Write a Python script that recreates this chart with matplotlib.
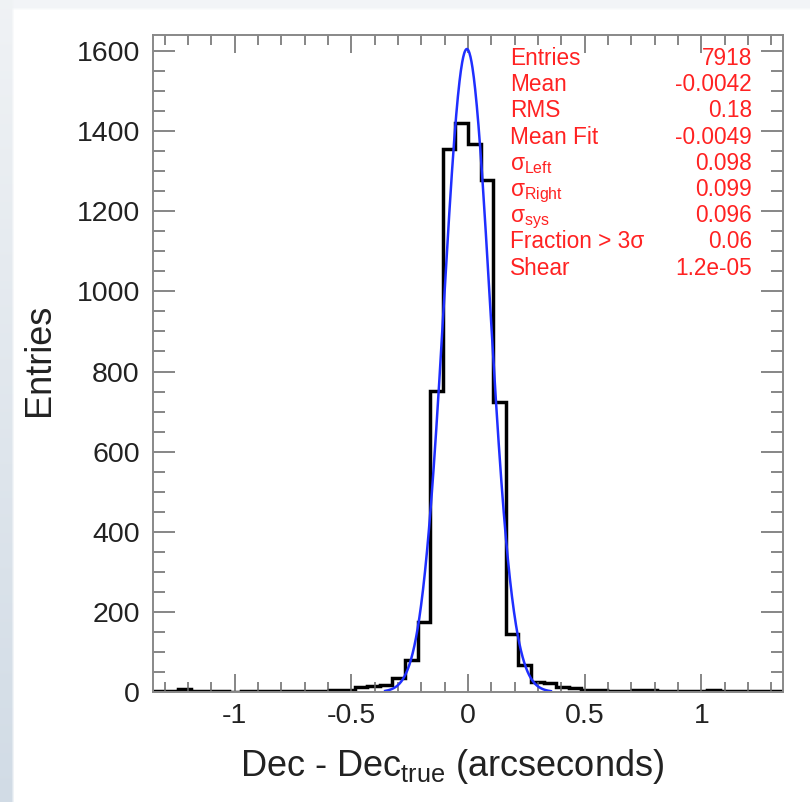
import numpy as np
import matplotlib
matplotlib.use("Agg")
import matplotlib.pyplot as plt
from matplotlib import font_manager
from matplotlib.ticker import MultipleLocator

# histogram: 50 bins over [-1.35, 1.35]
bin_lo, bin_hi, n_bins = -1.35, 1.35, 50
counts = [2, 2, 7, 2, 3, 2, 1, 2, 2, 3,
          2, 2, 3, 2, 5, 4, 13, 14, 18, 36,
          80, 175, 751, 1356, 1421, 1367, 1278, 723, 145, 67,
          25, 22, 13, 10, 5, 5, 2, 2, 5, 4,
          2, 2, 3, 2, 6, 2, 2, 3, 2, 3]

# asymmetric gaussian fit
fit_peak = 1605
fit_mean = -0.0049
sigma_left = 0.098
sigma_right = 0.099
sigma_sys = 0.096
fit_lo, fit_hi = -0.355, 0.355

# stats box
n_entries = 7918
hist_mean = -0.0042
hist_rms = 0.18
frac_3sigma = 0.06
shear = 1.2e-05

names = {f.name for f in font_manager.fontManager.ttflist}
font = "Liberation Sans" if "Liberation Sans" in names else "DejaVu Sans"

plt.rcParams["font.family"] = [font, "DejaVu Sans"]
plt.rcParams["mathtext.fontset"] = "custom"
plt.rcParams["mathtext.rm"] = font
plt.rcParams["mathtext.it"] = font + ":italic"
plt.rcParams["axes.unicode_minus"] = False

W, H = 810, 802
fig = plt.figure(figsize=(W / 100, H / 100), dpi=100)

# light slide-style backdrop with a white panel
bg = fig.add_axes([0, 0, 1, 1], zorder=-10)
bg.axis("off")
yy, xx = np.mgrid[0:H, 0:W]
img = np.ones((H, W, 3))
t = yy / H
left = np.stack([0.94 - 0.12 * t, 0.95 - 0.09 * t, 0.96 - 0.06 * t], axis=-1)
top = np.array([0.95, 0.96, 0.97])
wl = np.clip((14 - xx) / 3.0, 0, 1)[..., None]
wt = np.clip((10 - yy) / 3.0, 0, 1)[..., None]
img = img * (1 - wt) + top * wt
img = img * (1 - wl) + left * wl
bg.imshow(img, extent=[0, W, 0, H], aspect="auto")
bg.set_xlim(0, W)
bg.set_ylim(0, H)

ax = fig.add_axes([153 / W, 110 / H, 630 / W, 657 / H])

edges = np.linspace(bin_lo, bin_hi, n_bins + 1)
ax.stairs(counts, edges, baseline=None, color="black", linewidth=2.5)

x = np.linspace(fit_lo, fit_hi, 500)
sig = np.where(x < fit_mean, sigma_left, sigma_right)
ax.plot(x, fit_peak * np.exp(-0.5 * ((x - fit_mean) / sig) ** 2),
        color="#1f2fff", linewidth=1.8)

ax.set_xlim(bin_lo, bin_hi)
ax.set_ylim(0, 1640)
ax.xaxis.set_minor_locator(MultipleLocator(0.1))
ax.yaxis.set_major_locator(MultipleLocator(200))
ax.yaxis.set_minor_locator(MultipleLocator(50))
ax.set_xticks([-1, -0.5, 0, 0.5, 1])
ax.set_xticklabels(["-1", "-0.5", "0", "0.5", "1"])

ax.tick_params(which="both", direction="in", top=True, right=True,
               color="#666666", labelsize=20.5, labelcolor="#222222", width=1.1)
ax.tick_params(axis="y", which="major", length=15.8, pad=9.5)
ax.tick_params(axis="y", which="minor", length=8.6)
ax.tick_params(axis="x", which="major", length=13, pad=8)
ax.tick_params(axis="x", which="minor", length=7.2)
for s in ax.spines.values():
    s.set_color("#888888")
    s.set_linewidth(1.4)

ax.set_xlabel(r"Dec - Dec$_{\mathrm{true}}$ (arcseconds)", fontsize=26,
              color="#222222", va="baseline", ha="center")
ax.xaxis.set_label_coords(0.475, -84 / 657)
ax.set_ylabel("Entries", fontsize=26, color="#222222", va="center", ha="center")
ax.yaxis.set_label_coords(-113 / 630, 0.505)

# stats box
labels = ["Entries", "Mean", "RMS", "Mean Fit",
          r"$\mathrm{σ}_{\mathrm{Left}}$", r"$\mathrm{σ}_{\mathrm{Right}}$",
          r"$\mathrm{σ}_{\mathrm{sys}}$", "Fraction > 3σ", "Shear"]
values = [f"{n_entries}", f"{hist_mean:g}", f"{hist_rms:g}", f"{fit_mean:g}",
          f"{sigma_left:g}", f"{sigma_right:g}", f"{sigma_sys:g}",
          f"{frac_3sigma:g}", f"{shear:.1e}"]
red = "#ff2222"
for i, (lab, val) in enumerate(zip(labels, values)):
    ypix = H - (65 + 26.2 * i)
    fig.text(510 / W, ypix / H, lab, color=red, fontsize=16.3, va="baseline", ha="left")
    fig.text(752 / W, ypix / H, val, color=red, fontsize=16.3, va="baseline", ha="right")

fig.savefig("out.png", dpi=100)
